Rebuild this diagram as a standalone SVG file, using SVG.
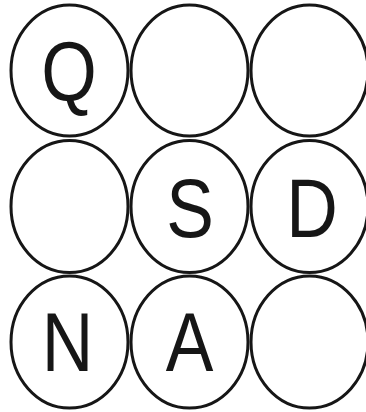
<svg xmlns="http://www.w3.org/2000/svg" width="366" height="412" viewBox="0 0 366 412">
<style>
.c{fill:#fff;stroke:#161616;stroke-width:3}
.t{font-family:"Liberation Sans",Arial,sans-serif;font-size:84px;fill:#161616;text-anchor:middle}
</style>
<rect width="366" height="412" fill="#fff"/>
<g id="connectors"></g>
<g id="n11"><ellipse class="c" cx="69.5" cy="70.5" rx="58.5" ry="65.5"/><text class="t" transform="translate(69,100) scale(0.85,1)">Q</text></g>
<g id="n12"><ellipse class="c" cx="189.5" cy="70.5" rx="58.5" ry="65.5"/></g>
<g id="n13"><ellipse class="c" cx="309.5" cy="70.5" rx="58.5" ry="65.5"/></g>
<g id="n21"><ellipse class="c" cx="69.5" cy="206.5" rx="58.5" ry="66"/></g>
<g id="n22"><ellipse class="c" cx="189.5" cy="206.5" rx="58.5" ry="66"/><text class="t" transform="translate(190,237) scale(0.85,1)">S</text></g>
<g id="n23"><ellipse class="c" cx="309.5" cy="206.5" rx="58.5" ry="66"/><text class="t" transform="translate(312,237) scale(0.85,1)">D</text></g>
<g id="n31"><ellipse class="c" cx="69.5" cy="342" rx="58.5" ry="66"/><text class="t" transform="translate(67.5,371) scale(0.85,1)">N</text></g>
<g id="n32"><ellipse class="c" cx="189.5" cy="342" rx="58.5" ry="66"/><text class="t" transform="translate(189.5,371) scale(0.85,1)">A</text></g>
<g id="n33"><ellipse class="c" cx="309.5" cy="342" rx="58.5" ry="66"/></g>
</svg>
